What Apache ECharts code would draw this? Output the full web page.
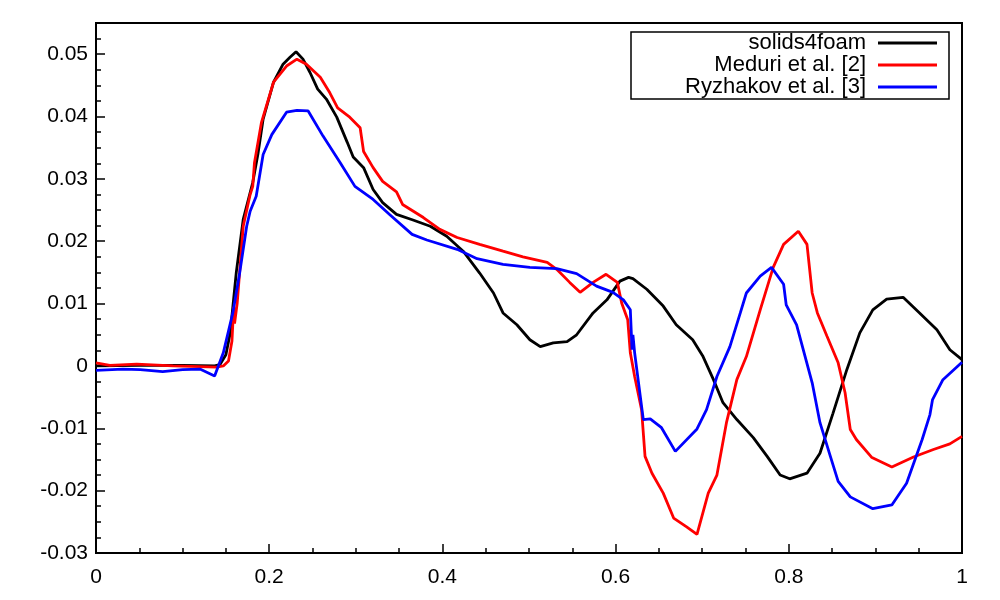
<!DOCTYPE html>
<html>
<head>
<meta charset="utf-8">
<script src="https://cdn.jsdelivr.net/npm/echarts@6/dist/echarts.min.js"></script>
<style>
html, body { margin: 0; padding: 0; background: #fff; }
#chart { width: 1000px; height: 600px; }
</style>
</head>
<body>
<div id="chart"></div>
<script>
var seriesNames = ['solids4foam', 'Meduri et al. [2]', 'Ryzhakov et al. [3]'];
var seriesColors = ['#000000', '#ff0000', '#0000ff'];

// [x, y]
var solidsData = [
    [0, 0], [0.05, 0.0001], [0.10, 0.0001], [0.137, 0.0], [0.143, 0.0002], [0.150, 0.0018],
    [0.155, 0.0053], [0.162, 0.015], [0.170, 0.0235], [0.181, 0.0294], [0.187, 0.034],
    [0.193, 0.0396], [0.205, 0.0455], [0.216, 0.0484], [0.224, 0.0495], [0.231, 0.0504],
    [0.239, 0.0492], [0.247, 0.0471], [0.256, 0.0444], [0.266, 0.0428], [0.278, 0.0399],
    [0.290, 0.0359], [0.297, 0.0335], [0.309, 0.0318], [0.320, 0.0283], [0.331, 0.0262],
    [0.347, 0.0243], [0.366, 0.0234], [0.386, 0.0224], [0.405, 0.0208], [0.424, 0.0184],
    [0.443, 0.0149], [0.459, 0.0117], [0.470, 0.0085], [0.486, 0.0066], [0.501, 0.0042],
    [0.513, 0.0031], [0.528, 0.0037], [0.544, 0.0039], [0.555, 0.0050], [0.574, 0.0085],
    [0.590, 0.0106], [0.605, 0.0136], [0.615, 0.0142], [0.620, 0.0140], [0.636, 0.0123],
    [0.655, 0.0096], [0.670, 0.0066], [0.689, 0.0042], [0.701, 0.0015], [0.713, -0.0022],
    [0.724, -0.0059], [0.740, -0.0086], [0.759, -0.0115], [0.775, -0.0145], [0.790, -0.0175],
    [0.801, -0.0181], [0.821, -0.0172], [0.836, -0.0140], [0.851, -0.0076], [0.867, -0.0006],
    [0.882, 0.0053], [0.897, 0.0090], [0.913, 0.0107], [0.932, 0.0110], [0.951, 0.0085],
    [0.971, 0.0058], [0.986, 0.0026], [1.0, 0.001]
];
var meduriData = [
    [0, 0.0005], [0.016, 0.0001], [0.047, 0.0003], [0.089, 0.0], [0.12, -0.0001], [0.139, -0.0002],
    [0.147, 0.0], [0.153, 0.0008], [0.157, 0.004], [0.159, 0.0095], [0.160, 0.0068], [0.163, 0.0100],
    [0.170, 0.0224], [0.178, 0.0275], [0.181, 0.0288], [0.183, 0.0326], [0.191, 0.039],
    [0.205, 0.0455], [0.220, 0.0481], [0.232, 0.0492], [0.243, 0.0484], [0.259, 0.0463],
    [0.270, 0.0438], [0.279, 0.0414], [0.293, 0.0399], [0.305, 0.0382], [0.309, 0.0344],
    [0.320, 0.0318], [0.331, 0.0296], [0.347, 0.0279], [0.354, 0.0259], [0.378, 0.0238],
    [0.397, 0.0219], [0.417, 0.0206], [0.443, 0.0195], [0.470, 0.0184], [0.493, 0.0175],
    [0.521, 0.0166], [0.532, 0.0155], [0.547, 0.0134], [0.559, 0.0118], [0.574, 0.0134],
    [0.589, 0.0147], [0.602, 0.0134], [0.607, 0.0101], [0.614, 0.0074], [0.617, 0.0021],
    [0.622, -0.0017], [0.630, -0.0070], [0.634, -0.0145], [0.642, -0.0172], [0.655, -0.0204],
    [0.667, -0.0244], [0.682, -0.0258], [0.694, -0.0270], [0.707, -0.0204], [0.717, -0.0175],
    [0.728, -0.0091], [0.740, -0.0022], [0.751, 0.0015], [0.767, 0.0090], [0.782, 0.0158],
    [0.794, 0.0195], [0.811, 0.0216], [0.821, 0.0195], [0.827, 0.0117], [0.833, 0.0085],
    [0.844, 0.0048], [0.857, 0.0005], [0.865, -0.0043], [0.871, -0.0102], [0.878, -0.0118],
    [0.896, -0.0147], [0.919, -0.0162], [0.944, -0.0146], [0.967, -0.0134], [0.986, -0.0125],
    [1.0, -0.0113]
];
var ryzhakovData = [
    [0, -0.0007], [0.031, -0.0005], [0.051, -0.0006], [0.077, -0.0009], [0.10, -0.0006],
    [0.12, -0.0005], [0.137, -0.0016], [0.147, 0.0021], [0.158, 0.0085], [0.166, 0.015],
    [0.174, 0.0224], [0.178, 0.0248], [0.185, 0.0272], [0.193, 0.0339], [0.203, 0.0371],
    [0.220, 0.0407], [0.232, 0.041], [0.245, 0.0409], [0.262, 0.0369], [0.282, 0.0326],
    [0.299, 0.0288], [0.320, 0.0267], [0.339, 0.0243], [0.365, 0.0211], [0.382, 0.0202],
    [0.417, 0.0187], [0.440, 0.0172], [0.470, 0.0163], [0.501, 0.0158], [0.532, 0.0156],
    [0.555, 0.0148], [0.578, 0.0128], [0.597, 0.0118], [0.609, 0.0106], [0.617, 0.0090],
    [0.619, 0.0026], [0.620, 0.0050], [0.622, 0.0021], [0.632, -0.0086], [0.640, -0.0085],
    [0.653, -0.0099], [0.669, -0.0137], [0.694, -0.0101], [0.705, -0.0070], [0.717, -0.0017],
    [0.732, 0.0031], [0.744, 0.0085], [0.751, 0.0117], [0.767, 0.0144], [0.780, 0.0158],
    [0.794, 0.0131], [0.797, 0.0098], [0.809, 0.0066], [0.827, -0.0027], [0.836, -0.0091],
    [0.848, -0.0145], [0.857, -0.0185], [0.871, -0.0210], [0.897, -0.0229], [0.919, -0.0223],
    [0.936, -0.0188], [0.954, -0.0118], [0.963, -0.0078], [0.966, -0.0054], [0.978, -0.0022],
    [1.0, 0.0006]
];
var allData = [solidsData, meduriData, ryzhakovData];

var fontName = 'Liberation Sans';
var chart = echarts.init(document.getElementById('chart'), null, { renderer: 'canvas' });

var series = [];
var legends = [];
for (var i = 0; i < seriesNames.length; i++) {
    series.push({
        name: seriesNames[i],
        type: 'line',
        data: allData[i],
        showSymbol: false,
        animation: false,
        lineStyle: { color: seriesColors[i], width: 2.8 },
        itemStyle: { color: seriesColors[i] }
    });
    legends.push({
        data: [seriesNames[i]],
        right: 63,
        top: 32 + i * 22,
        padding: 0,
        align: 'right',
        icon: 'rect',
        itemWidth: 59,
        itemHeight: 3,
        selectedMode: false,
        textStyle: { fontFamily: fontName, fontSize: 22, color: '#000', lineHeight: 22, padding: [0, 7, 0, 0] }
    });
}

var option = {
    backgroundColor: '#fff',
    animation: false,
    grid: { left: 96, right: 38, top: 23, bottom: 47, show: true, borderColor: '#000', borderWidth: 2, backgroundColor: 'transparent' },
    legend: legends,
    xAxis: {
        type: 'value',
        min: 0,
        max: 1,
        interval: 0.2,
        axisLine: { show: true, onZero: false, lineStyle: { color: '#000', width: 2 } },
        axisTick: { show: true, inside: true, length: 9, lineStyle: { color: '#000', width: 1.5 } },
        minorTick: { show: true, splitNumber: 4, length: 5, lineStyle: { color: '#000', width: 1.5 } },
        splitLine: { show: false },
        axisLabel: { color: '#000', fontFamily: fontName, fontSize: 21, margin: 14 }
    },
    yAxis: [{
        type: 'value',
        min: -0.03,
        max: 0.055,
        interval: 0.01,
        axisLine: { show: true, onZero: false, lineStyle: { color: '#000', width: 2 } },
        axisTick: { show: true, inside: true, length: 9, lineStyle: { color: '#000', width: 1.5 } },
        splitLine: { show: false },
        axisLabel: { color: '#000', fontFamily: fontName, fontSize: 21, margin: 8, showMaxLabel: false }
    }, {
        type: 'value',
        position: 'left',
        min: -0.03,
        max: 0.055,
        interval: 0.0025,
        axisLine: { show: false },
        axisTick: { show: true, inside: true, length: 5, lineStyle: { color: '#000', width: 1.5 } },
        splitLine: { show: false },
        axisLabel: { show: false }
    }],
    graphic: [{
        type: 'rect',
        shape: { x: 631, y: 32, width: 318, height: 67 },
        style: { fill: 'none', stroke: '#000', lineWidth: 1.5 },
        z: 100
    }],
    series: series
};
chart.setOption(option);
</script>
</body>
</html>
